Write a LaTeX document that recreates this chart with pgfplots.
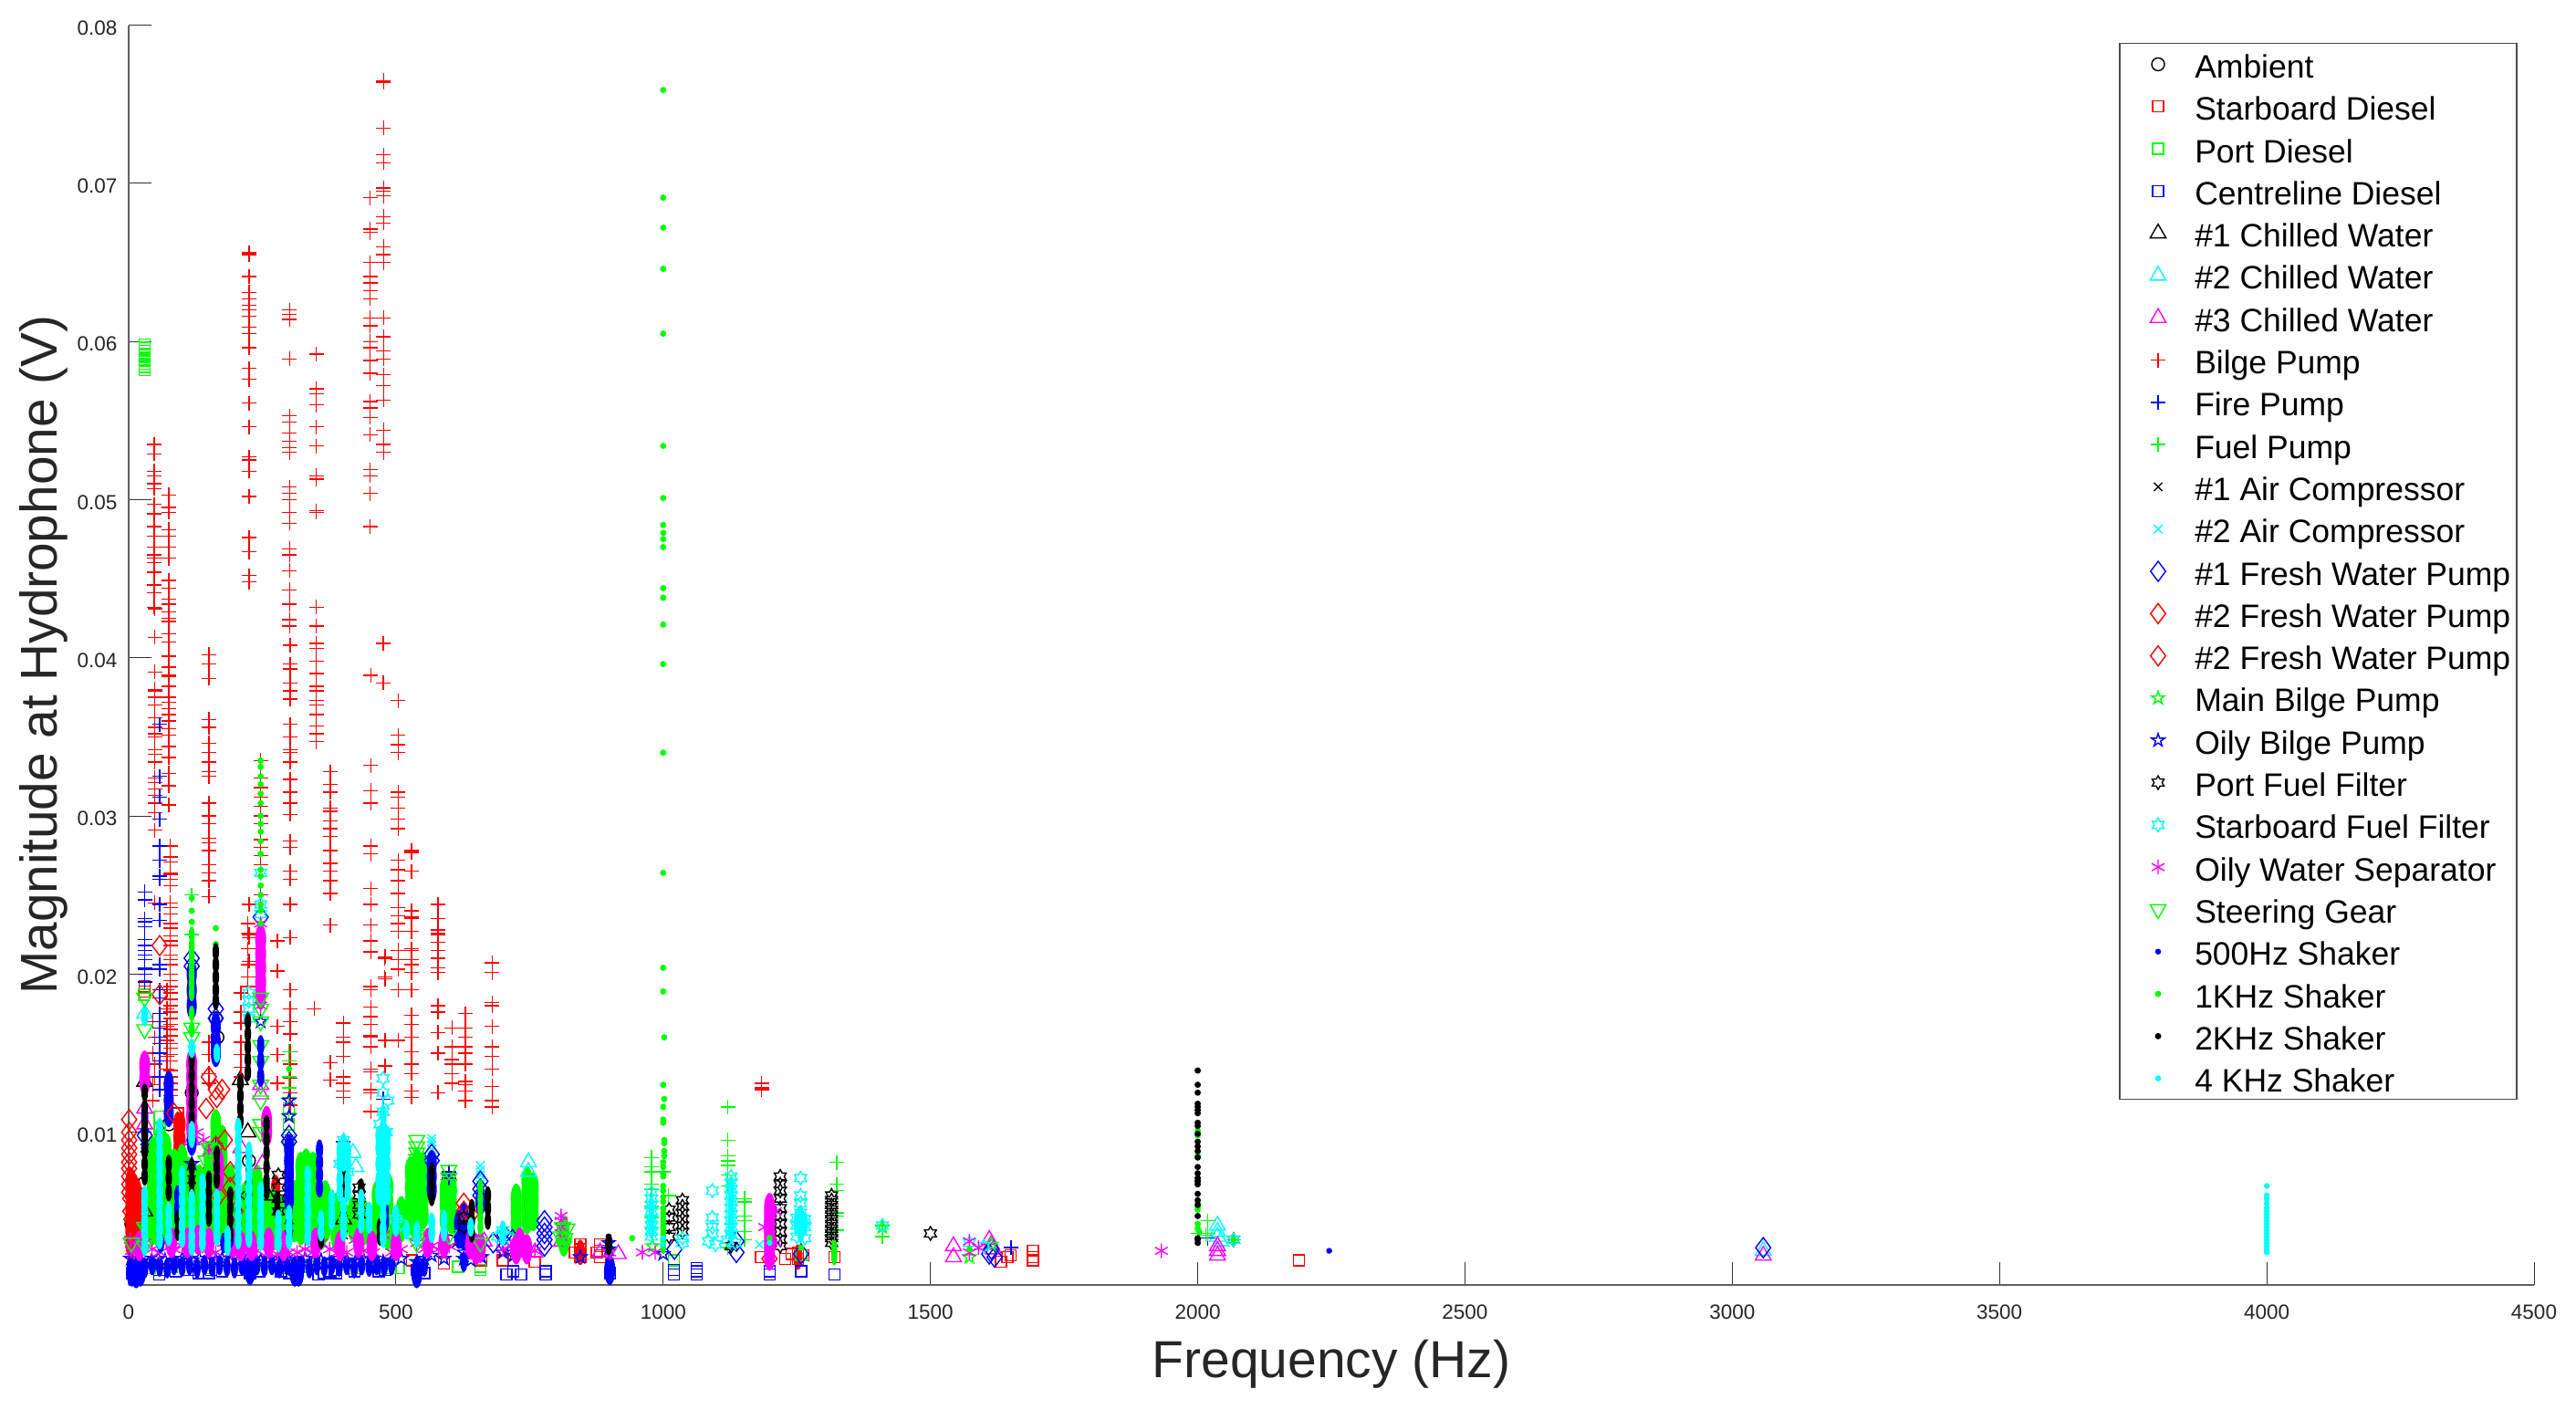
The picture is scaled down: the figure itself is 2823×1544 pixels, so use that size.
\documentclass[border=0pt]{standalone}
\usepackage{fontspec}
\setmainfont{Liberation Sans}
\usepackage{pgfplots}
\pgfplotsset{compat=1.18}
\usetikzlibrary{plotmarks}
\definecolor{tk}{HTML}{262626}
\definecolor{cyan}{RGB}{0,255,255}
\definecolor{magenta}{RGB}{255,0,255}
\definecolor{green}{RGB}{0,255,0}
\pgfdeclareplotmark{pill}{\pgfpathellipse{\pgfpointorigin}{\pgfpoint{\pgfplotmarksize}{0pt}}{\pgfpoint{0pt}{2.8\pgfplotmarksize}}\pgfusepathqfill}
\pgfdeclareplotmark{penta}{%
 \pgfpathmoveto{\pgfpointpolar{90}{\pgfplotmarksize}}%
 \pgfpathlineto{\pgfpointpolar{126}{0.382\pgfplotmarksize}}%
 \pgfpathlineto{\pgfpointpolar{162}{\pgfplotmarksize}}%
 \pgfpathlineto{\pgfpointpolar{198}{0.382\pgfplotmarksize}}%
 \pgfpathlineto{\pgfpointpolar{234}{\pgfplotmarksize}}%
 \pgfpathlineto{\pgfpointpolar{270}{0.382\pgfplotmarksize}}%
 \pgfpathlineto{\pgfpointpolar{306}{\pgfplotmarksize}}%
 \pgfpathlineto{\pgfpointpolar{342}{0.382\pgfplotmarksize}}%
 \pgfpathlineto{\pgfpointpolar{18}{\pgfplotmarksize}}%
 \pgfpathlineto{\pgfpointpolar{54}{0.382\pgfplotmarksize}}%
 \pgfpathclose\pgfusepathqstroke}
\pgfdeclareplotmark{hexa}{%
 \pgfpathmoveto{\pgfpointpolar{90}{\pgfplotmarksize}}%
 \pgfpathlineto{\pgfpointpolar{120}{0.577\pgfplotmarksize}}%
 \pgfpathlineto{\pgfpointpolar{150}{\pgfplotmarksize}}%
 \pgfpathlineto{\pgfpointpolar{180}{0.577\pgfplotmarksize}}%
 \pgfpathlineto{\pgfpointpolar{210}{\pgfplotmarksize}}%
 \pgfpathlineto{\pgfpointpolar{240}{0.577\pgfplotmarksize}}%
 \pgfpathlineto{\pgfpointpolar{270}{\pgfplotmarksize}}%
 \pgfpathlineto{\pgfpointpolar{300}{0.577\pgfplotmarksize}}%
 \pgfpathlineto{\pgfpointpolar{330}{\pgfplotmarksize}}%
 \pgfpathlineto{\pgfpointpolar{0}{0.577\pgfplotmarksize}}%
 \pgfpathlineto{\pgfpointpolar{30}{\pgfplotmarksize}}%
 \pgfpathlineto{\pgfpointpolar{60}{0.577\pgfplotmarksize}}%
 \pgfpathclose\pgfusepathqstroke}
\pgfplotsset{
 p/.style n args={3}{only marks,mark=#1,color=#2,mark size=#3,mark options={solid,line width=1.4pt},
  legend image code/.code={\path (-26pt,0pt) (48pt,0pt);\draw[mark repeat=2,mark phase=2,##1] plot coordinates {(0cm,0cm)(0.3cm,0cm)(0.6cm,0cm)};}},
 b/.style n args={2}{forget plot,only marks,mark=pill,color=#1,mark size=#2,mark options={solid,line width=0pt}},
}
\begin{document}
\begin{tikzpicture}
\path[use as bounding box] (0pt,0pt) rectangle (2823pt,1544pt);
\begin{axis}[
 at={(141pt,136pt)},anchor=south west,scale only axis,width=2636pt,height=1380.3pt,
 xmin=0,xmax=4500,ymin=0.00034,ymax=0.08,clip=false,
 axis x line=bottom,axis y line=left,axis line style={-,color=black!62,line width=2pt},
 tick align=inside,major tick length=25pt,tick style={color=black!80,line width=1pt},
 xtick={0,500,1000,1500,2000,2500,3000,3500,4000,4500},
 xticklabels={0,500,1000,1500,2000,2500,3000,3500,4000,4500},
 ytick={0.01,0.02,0.03,0.04,0.05,0.06,0.07,0.08},
 yticklabels={0.01,0.02,0.03,0.04,0.05,0.06,0.07,0.08},
 tick label style={font=\fontsize{22.5}{22.5}\selectfont,text=tk},
 xticklabel style={yshift=-18pt},yticklabel style={xshift=-9pt,yshift=-3pt},
 xlabel={Frequency (Hz)},ylabel={Magnitude at Hydrophone (V)},
 every axis x label/.style={at={(axis description cs:0.5,-0.0632)},anchor=center,font=\fontsize{57}{57}\selectfont,text=tk},
 every axis y label/.style={at={(axis description cs:-0.0355,0.5)},rotate=90,anchor=center,font=\fontsize{56.7}{56.7}\selectfont,text=tk},
 legend cell align=left,
 legend style={at={(0.8274,0.9862)},anchor=north west,draw=black!70,line width=1.5pt,
  font=\fontsize{35.5}{35.5}\selectfont,row sep=12.3pt,inner xsep=7pt,inner ysep=6pt,
  nodes={inner sep=0pt,text height=32pt,text depth=2pt}},
]
% 1 Ambient
\addplot[p={o}{black}{7}] coordinates {(5,.0042)(30,.0068)(75,.0105)(118,.0125)(163,.0172)(166,.0160)(225,.0082)(300,.0058)(402,.0050)(476,.0045)(600,.0031)};
\addlegendentry{Ambient}
% 2 Starboard Diesel
\addplot[b={red}{5}] coordinates {(92,.0105)(92,.0097)(92,.0089)(98,.0105)(98,.0095)(98,.0087)(845,.0024)(1252,.0021)(85,.0080)(85,.0070)(140,.0070)(140,.0060)(145,.0050)(250,.0040)(275,.0065)};
\addplot[p={square}{red}{6}] coordinates {(30,.0192)(30,.0189)(92,.0112)(845,.0029)(845,.0026)(845,.0023)(845,.0021)(835,.0024)(882,.0029)(882,.0025)(882,.0021)(876,.0024)(1183,.0021)(1228,.0020)(1240,.0023)(1252,.0024)(1252,.0020)(1262,.0022)(1320,.0021)(1632,.0018)(1644,.0021)(1650,.0022)(1692,.0025)(1692,.0021)(1692,.0019)(2189,.0019)(530,.0019)(590,.0017)(660,.0019)(700,.0019)(760,.0018)};
\addlegendentry{Starboard Diesel}
% 3 Port Diesel
\addplot[b={green}{6}] coordinates {(44,.0088)(44,.0078)(44,.0068)(44,.0058)(44,.0048)(44,.0038)(58,.0095)(58,.0085)(58,.0075)(58,.0065)(58,.0055)(58,.0045)(58,.0035)(70,.0090)(70,.0080)(70,.0070)(70,.0060)(70,.0050)(70,.0040)(85,.0080)(85,.0070)(85,.0060)(85,.0050)(85,.0040)(100,.0083)(100,.0075)(100,.0065)(100,.0055)(100,.0045)(110,.0075)(110,.0065)(110,.0055)(110,.0045)(125,.0070)(125,.0060)(125,.0050)(125,.0040)(132,.0070)(132,.0060)(132,.0050)(150,.0085)(150,.0075)(150,.0065)(150,.0055)(150,.0045)(150,.0035)(163,.0105)(163,.0097)(163,.0087)(163,.0077)(163,.0067)(163,.0057)(163,.0047)(175,.0095)(175,.0085)(175,.0075)(175,.0060)(175,.0050)(175,.0040)(190,.0070)(190,.0060)(190,.0050)(190,.0040)(205,.0055)(205,.0045)(205,.0035)(220,.0060)(220,.0050)(220,.0040)(240,.0070)(240,.0060)(240,.0050)(240,.0040)(255,.0062)(255,.0052)(255,.0042)(270,.0055)(270,.0045)(270,.0035)(285,.0050)(285,.0040)(298,.0050)(298,.0040)(310,.0060)(310,.0050)(310,.0040)(322,.0078)(322,.0068)(322,.0058)(322,.0048)(322,.0038)(332,.0080)(332,.0070)(332,.0060)(332,.0050)(332,.0040)(345,.0078)(345,.0068)(345,.0058)(345,.0048)(345,.0038)(360,.0055)(360,.0045)(360,.0035)(368,.0060)(368,.0050)(368,.0040)(388,.0052)(388,.0042)(388,.0035)(400,.0050)(400,.0040)(420,.0050)(420,.0040)(440,.0048)(440,.0038)(465,.0060)(465,.0050)(465,.0040)(485,.0065)(485,.0055)(485,.0045)(485,.0035)(510,.0050)(510,.0040)(527,.0075)(527,.0065)(527,.0055)(527,.0045)(539,.0080)(539,.0070)(539,.0060)(539,.0050)(539,.0040)(551,.0078)(551,.0068)(551,.0058)(551,.0048)(592,.0063)(592,.0055)(592,.0045)(604,.0063)(604,.0055)(604,.0045)(725,.0058)(725,.0050)(725,.0042)(745,.0069)(745,.0061)(745,.0053)(745,.0045)(757,.0065)(757,.0057)(757,.0047)(814,.0038)(814,.0031)};
\addplot[p={square}{green}{6}] coordinates {(30,.0598)(30,.0596)(30,.0594)(30,.0592)(30,.0590)(30,.0588)(30,.0586)(30,.0584)(30,.0582)(28,.0187)(58,.0110)(58,.0102)(300,.0115)(300,.0105)(300,.0095)(328,.0081)(347,.0079)(539,.0055)(1020,.0019)(40,.0014)(80,.0015)(150,.0014)(287,.0014)(335,.0015)(423,.0014)(468,.0015)(490,.0014)(505,.0014)(616,.0015)(658,.0013)(658,.0015)(1258,.0022)};
\addlegendentry{Port Diesel}
% 4 Centreline Diesel
\addplot[b={blue}{6}] coordinates {(6,.0012)(14,.0011)(22,.0012)(227,.0013)(311,.0012)(318,.0012)(539,.0011)(900,.0013)};
\addplot[p={square}{blue}{6}] coordinates {(6,.0011)(57,.0010)(57,.0013)(88,.0012)(114,.0013)(131,.0011)(150,.0011)(155,.0013)(175,.0012)(210,.0013)(227,.0011)(244,.0012)(285,.0012)(300,.0011)(311,.0013)(355,.0010)(365,.0011)(378,.0012)(388,.0013)(388,.0011)(423,.0012)(468,.0012)(480,.0013)(539,.0013)(553,.0011)(707,.0010)(720,.0012)(734,.0010)(780,.0012)(780,.0010)(900,.0011)(1020,.0013)(1020,.0010)(1063,.0014)(1063,.0012)(1063,.0010)(1199,.0012)(1199,.0010)(1258,.0012)(1320,.0010)};
\addlegendentry{Centreline Diesel}
% 5 #1 Chilled Water
\addplot[p={triangle}{black}{10}] coordinates {(30,.0132)(209,.0133)(223,.0100)(30,.0050)(260,.0060)(402,.0045)};
\addlegendentry{\#1 Chilled Water}
% 6 #2 Chilled Water
\addplot[p={triangle}{cyan}{10}] coordinates {(420,.0087)(425,.0078)(748,.0081)(748,.0075)(2037,.0041)(2037,.0037)(2037,.0034)(2043,.0031)(3058,.0025)(476,.0066)(30,.0175)};
\addlegendentry{\#2 Chilled Water}
% 7 #3 Chilled Water
\addplot[p={triangle}{magenta}{10}] coordinates {(882,.0024)(916,.0023)(1543,.0028)(1543,.0021)(1610,.0032)(1614,.0029)(1618,.0026)(2037,.0028)(2037,.0025)(2037,.0022)(3058,.0022)(810,.0031)(760,.0024)(30,.0115)(30,.0105)(247,.0130)(247,.0124)(118,.0095)(210,.0090)(250,.0080)(650,.0030)(665,.0031)(728,.0030)};
\addlegendentry{\#3 Chilled Water}
% 8 Bilge Pump
\addplot[p={+}{red}{8}] coordinates {
(48,.0535)(48,.0529)(48,.0518)(48,.0515)(48,.0510)(48,.0507)(48,.0497)(48,.0491)(48,.0483)(48,.0477)(48,.0470)(48,.0465)(48,.0463)(48,.0460)(48,.0454)(48,.0446)(48,.0441)(48,.0432)(49,.0431)(49,.0413)(49,.0391)(49,.0380)(49,.0379)(49,.0375)(49,.0370)(49,.0362)(49,.0356)(49,.0352)(49,.0350)(49,.0342)(49,.0339)(49,.0334)(49,.0324)(49,.0321)(49,.0317)(49,.0313)(49,.0308)(49,.0302)(49,.0291)(49,.0160)(49,.0143)(49,.0135)(45,.0170)(45,.0150)(45,.0130)(45,.0120)
(75,.0503)(75,.0495)(75,.0492)(75,.0481)(75,.0477)(75,.0470)(75,.0463)(75,.0449)(75,.0444)(75,.0437)(75,.0434)(75,.0429)(75,.0423)(75,.0415)(75,.0425)(75,.0410)(75,.0401)(75,.0394)(75,.0389)(75,.0388)(75,.0382)(75,.0375)(75,.0372)(75,.0368)(75,.0364)(75,.0360)(75,.0355)(75,.0351)(75,.0344)(75,.0337)(75,.0327)(75,.0319)(75,.0307)(78,.0281)(78,.0274)(78,.0271)(78,.0264)(78,.0263)(78,.0260)(78,.0256)(78,.0245)(78,.0242)(78,.0238)(78,.0232)(78,.0229)(78,.0224)(78,.0221)(78,.0218)(78,.0212)(78,.0209)(78,.0206)(78,.0200)(78,.0196)(78,.0192)(78,.0188)(78,.0184)(78,.0180)(78,.0176)(78,.0172)(78,.0168)(78,.0165)(78,.0161)(78,.0156)(78,.0153)(78,.0149)(78,.0145)(78,.0139)(78,.0135)(78,.0131)(78,.0127)(78,.0123)(72,.0190)(72,.0178)(72,.0167)(72,.0158)(72,.0148)(72,.0140)
(150,.0402)(150,.0396)(150,.0387)(150,.0361)(150,.0356)(150,.0346)(150,.0340)(150,.0334)(150,.0328)(150,.0325)(150,.0308)(150,.0300)(150,.0295)(150,.0286)(150,.0283)(150,.0278)(150,.0269)(150,.0264)(150,.0259)(150,.0249)(150,.0157)(150,.0149)(150,.0137)(150,.0131)
(225,.0656)(225,.0655)(225,.0641)(225,.0631)(225,.0627)(225,.0623)(225,.0620)(225,.0616)(225,.0609)(225,.0605)(225,.0596)(225,.0583)(225,.0576)(225,.0561)(225,.0546)(225,.0527)(225,.0525)(225,.0518)(225,.0502)(225,.0476)(225,.0467)(225,.0452)(225,.0448)(223,.0232)(223,.0226)(223,.0216)(223,.0206)(223,.0198)(223,.0192)(210,.0188)(210,.0176)(210,.0169)(210,.0157)(210,.0149)(210,.0141)(210,.0135)
(247,.0335)(247,.0324)(247,.0318)(247,.0312)(247,.0306)(247,.0300)(247,.0295)(247,.0285)(247,.0280)(247,.0275)(247,.0269)(247,.0250)(225,.0244)(225,.0225)(225,.0223)(225,.0208)
(301,.0620)(301,.0617)(301,.0614)(301,.0589)(301,.0553)(301,.0549)(301,.0542)(301,.0537)(301,.0533)(301,.0530)(301,.0508)(301,.0504)(301,.0500)(301,.0492)(301,.0485)(301,.0469)(301,.0465)(301,.0455)(301,.0443)(301,.0434)(301,.0424)(301,.0420)(302,.0408)(302,.0396)(302,.0393)(302,.0384)(302,.0379)(302,.0374)(302,.0358)(302,.0350)(302,.0342)(302,.0340)(302,.0334)(302,.0323)(302,.0315)(302,.0308)(302,.0301)(302,.0284)(302,.0280)(302,.0265)(302,.0260)(302,.0244)(302,.0223)(302,.0190)(302,.0178)(302,.0170)(302,.0162)(302,.0151)(302,.0143)(302,.0134)(302,.0125)(302,.0117)(278,.0221)(278,.0202)(278,.0167)(278,.0149)(278,.0131)
(351,.0592)(351,.0570)(351,.0567)(351,.0560)(351,.0546)(351,.0534)(351,.0515)(351,.0513)(351,.0493)(351,.0492)(351,.0432)(351,.0420)(351,.0409)(351,.0406)(351,.0398)(351,.0390)(351,.0382)(351,.0379)(351,.0373)(351,.0370)(351,.0364)(351,.0357)(351,.0352)(351,.0347)(347,.0178)
(377,.0328)(377,.0320)(377,.0315)(377,.0305)(377,.0303)(377,.0297)(377,.0292)(377,.0287)(377,.0278)(377,.0270)(377,.0265)(377,.0259)(377,.0251)(377,.0231)(377,.0144)(377,.0133)(402,.0169)(402,.0160)(402,.0157)(402,.0148)(402,.0135)(402,.0131)(402,.0126)(402,.0122)
(452,.0691)(452,.0671)(452,.0669)(452,.0650)(452,.0641)(452,.0637)(452,.0632)(452,.0627)(452,.0615)(452,.0610)(452,.0600)(452,.0596)(452,.0588)(452,.0580)(452,.0562)(452,.0558)(452,.0552)(452,.0541)(452,.0519)(452,.0515)(452,.0504)(452,.0483)(453,.0389)(453,.0332)(453,.0316)(453,.0308)(453,.0281)(453,.0276)(453,.0254)(453,.0244)(453,.0231)(453,.0221)(453,.0214)(453,.0192)(453,.0190)(453,.0179)(453,.0173)(453,.0168)(453,.0161)(453,.0160)(453,.0154)(453,.0140)(453,.0138)(453,.0127)(453,.0125)(453,.0113)
(477,.0765)(477,.0764)(477,.0735)(477,.0713)(477,.0718)(477,.0697)(477,.0695)(477,.0692)(477,.0679)(477,.0675)(477,.0660)(477,.0655)(477,.0650)(477,.0615)(477,.0603)(477,.0594)(477,.0589)(477,.0579)(477,.0572)(477,.0563)(477,.0544)(477,.0535)(477,.0530)(476,.0409)(476,.0384)(479,.0210)(479,.0198)(480,.0211)(480,.0197)(480,.0158)(480,.0142)
(504,.0373)(504,.0351)(504,.0345)(504,.0340)(504,.0315)(504,.0312)(504,.0305)(504,.0298)(504,.0292)(504,.0272)(504,.0266)(504,.0259)(504,.0251)(504,.0242)(504,.0237)(504,.0232)(504,.0227)(504,.0215)(504,.0209)(504,.0203)(504,.0190)(504,.0158)
(529,.0278)(529,.0277)(529,.0265)(529,.0240)(529,.0236)(529,.0235)(529,.0227)(529,.0216)(529,.0209)(529,.0206)(529,.0201)(529,.0215)(529,.0206)(529,.0190)(529,.0174)(529,.0168)(529,.0160)(529,.0151)(529,.0143)(529,.0137)(529,.0126)(529,.0122)
(579,.0244)(579,.0235)(579,.0228)(579,.0226)(579,.0225)(579,.0220)(579,.0215)(579,.0210)(579,.0204)(579,.0201)(579,.0180)(579,.0176)(579,.0163)(579,.0150)(579,.0125)
(605,.0166)(605,.0154)(605,.0146)(605,.0143)(605,.0137)(605,.0131)(630,.0175)(630,.0166)(630,.0160)(630,.0154)(630,.0150)(630,.0143)(630,.0132)(630,.0130)(630,.0126)(630,.0120)
(680,.0207)(680,.0201)(680,.0182)(680,.0180)(680,.0167)(680,.0154)(680,.0148)(680,.0140)(680,.0129)(680,.0120)(680,.0116)
(1184,.0131)(1184,.0128)(1184,.0127)(49,.0245)
};
\addlegendentry{Bilge Pump}
% 9 Fire Pump
\addplot[p={+}{blue}{8}] coordinates {(30,.0252)(30,.0247)(30,.0235)(30,.0233)(30,.0230)(30,.0222)(30,.0218)(30,.0215)(30,.0212)(30,.0209)(30,.0204)(30,.0203)(30,.0200)(30,.0195)(58,.0358)(58,.0325)(58,.0312)(58,.0298)(58,.0281)(58,.0272)(58,.0262)(58,.0260)(58,.0244)(58,.0234)(58,.0206)(58,.0203)(58,.0190)(58,.0185)(58,.0175)(58,.0170)(58,.0166)(58,.0160)(58,.0156)(58,.0150)(58,.0145)(58,.0135)(58,.0127)(402,.0094)(476,.0121)(599,.0075)(599,.0073)(599,.0071)(163,.0093)(163,.0085)(1651,.0027)(2019,.0033)};
\addlegendentry{Fire Pump}
% 10 Fuel Pump
\addplot[p={+}{green}{8}] coordinates {(978,.0084)(978,.0078)(978,.0075)(978,.0067)(978,.0064)(978,.0053)(978,.0046)(978,.0040)(1121,.0116)(1121,.0095)(1121,.0085)(1121,.0082)(1121,.0079)(1121,.0073)(1121,.0066)(1121,.0027)(1152,.0058)(1152,.0056)(1152,.0047)(1152,.0044)(1152,.0037)(1152,.0032)(1325,.0081)(1325,.0067)(1325,.0063)(1325,.0049)(1325,.0047)(1325,.0038)(1315,.0035)(1410,.0041)(1410,.0034)(2019,.0044)(2019,.0036)(2015,.0035)(2067,.0032)(300,.0151)(300,.0145)(300,.0135)(300,.0128)(300,.0122)(300,.0112)(118,.0250)(118,.0225)(2000,.0036)(1000,.0075)(1010,.0060)};
\addlegendentry{Fuel Pump}
% 11 #1 Air Compressor
\addplot[p={x}{black}{6.5}] coordinates {(30,.0090)(118,.0070)(209,.0060)(300,.0040)(402,.0035)};
\addlegendentry{\#1 Air Compressor}
% 12 #2 Air Compressor
\addplot[p={x}{cyan}{6.5}] coordinates {(118,.0152)(118,.0147)(118,.0141)(118,.0136)(567,.0096)(567,.0094)(567,.0092)(567,.0089)(658,.0079)(658,.0076)(658,.0073)(658,.0070)(658,.0067)(1180,.0029)};
\addlegendentry{\#2 Air Compressor}
% 13 #1 Fresh Water Pump
\addplot[b={blue}{5.5}] coordinates {(118,.0200)(118,.0190)(118,.0180)(163,.0167)(163,.0157)(163,.0150)(75,.0130)(75,.0120)(75,.0112)(300,.0090)(300,.0082)(300,.0074)(300,.0066)(300,.0058)(627,.0047)(627,.0040)(627,.0034)(618,.0042)(618,.0035)(636,.0040)(636,.0032)(567,.0080)(567,.0072)(567,.0064)(658,.0056)(118,.0100)(118,.0094)};
\addplot[p={diamond}{blue}{11}] coordinates {(118,.0210)(118,.0205)(163,.0178)(163,.0172)(247,.0236)(300,.0098)(300,.0094)(567,.0086)(567,.0082)(658,.0069)(658,.0064)(658,.0060)(778,.0044)(778,.0040)(778,.0036)(778,.0032)(778,.0028)(1137,.0031)(1137,.0024)(1021,.0026)(1258,.0023)(1614,.0026)(1610,.0023)(1620,.0021)(3058,.0027)(703,.0035)(703,.0030)(718,.0032)(682,.0030)(30,.0098)};
\addlegendentry{\#1 Fresh Water Pump}
% 14 #2 Fresh Water Pump
\addplot[b={red}{6}] coordinates {(4,.0068)(4,.0060)(4,.0052)(4,.0045)(4,.0038)(4,.0030)(14,.0062)(14,.0054)(14,.0047)(14,.0040)(14,.0032)};
\addplot[p={diamond}{red}{11}] coordinates {(1,.0108)(1,.0100)(1,.0095)(1,.0090)(1,.0086)(1,.0081)(1,.0077)(1,.0072)(1,.0067)(1,.0062)(58,.0218)(58,.0187)(163,.0127)(163,.0091)(175,.0127)(180,.0095)(190,.0075)(190,.0065)(627,.0055)(627,.0050)(640,.0048)(5,.0045)(10,.0040)};
\addlegendentry{\#2 Fresh Water Pump}
% 15 #2 Fresh Water Pump
\addplot[p={diamond}{red}{11}] coordinates {(150,.0135)(165,.0122)(145,.0115)(85,.0112)(3,.0058)(3,.0050)(168,.0060)(200,.0050)(1199,.0020)};
\addlegendentry{\#2 Fresh Water Pump}
% 16 Main Bilge Pump
\addplot[p={penta}{green}{7.5}] coordinates {(30,.0040)(280,.0050)(402,.0045)(980,.0028)(1410,.0040)(1573,.0021)(1614,.0029)(900,.0026)};
\addlegendentry{Main Bilge Pump}
% 17 Oily Bilge Pump
\addplot[b={blue}{4}] coordinates {(6,.0015)(18,.0016)(30,.0014)(44,.0016)(58,.0015)(72,.0014)(85,.0016)(100,.0015)(114,.0016)(128,.0014)(142,.0016)(156,.0015)(170,.0016)(184,.0015)(198,.0014)(212,.0016)(226,.0015)(240,.0016)(254,.0015)(268,.0016)(282,.0014)(296,.0016)(310,.0015)(324,.0016)(338,.0014)(352,.0016)(366,.0015)(380,.0016)(394,.0015)(408,.0016)(422,.0014)(436,.0016)(450,.0015)(464,.0016)(478,.0015)(492,.0016)(627,.0018)(539,.0015)(553,.0015)};
\addplot[p={penta}{blue}{7.5}] coordinates {(4,.0020)(16,.0019)(28,.0020)(42,.0018)(55,.0020)(68,.0019)(85,.0018)(100,.0020)(118,.0019)(132,.0020)(148,.0018)(163,.0019)(175,.0020)(190,.0018)(205,.0019)(222,.0020)(235,.0018)(247,.0019)(262,.0020)(278,.0018)(292,.0020)(300,.0019)(315,.0018)(330,.0020)(345,.0018)(360,.0019)(376,.0018)(392,.0020)(408,.0019)(424,.0018)(440,.0019)(458,.0020)(476,.0018)(492,.0019)(510,.0020)(539,.0018)(553,.0020)(567,.0022)(590,.0020)(627,.0024)(627,.0020)(640,.0019)(660,.0021)(700,.0024)(720,.0022)(845,.0021)(898,.0030)(898,.0026)(1000,.0023)(247,.0170)(118,.0080)(300,.0120)(300,.0110)};
\addlegendentry{Oily Bilge Pump}
% 18 Port Fuel Filter
\addplot[p={hexa}{black}{7.5}] coordinates {(280,.0073)(280,.0065)(280,.0058)(280,.0050)(431,.0065)(431,.0060)(431,.0054)(431,.0048)(627,.0046)(627,.0040)(1011,.0051)(1011,.0046)(1011,.0040)(1011,.0034)(1036,.0057)(1036,.0053)(1036,.0049)(1036,.0045)(1036,.0041)(1036,.0037)(1219,.0072)(1219,.0067)(1219,.0063)(1219,.0058)(1219,.0052)(1219,.0047)(1219,.0042)(1219,.0037)(1219,.0032)(1219,.0028)(1315,.0060)(1315,.0057)(1315,.0054)(1315,.0051)(1315,.0048)(1315,.0045)(1315,.0042)(1315,.0039)(1315,.0036)(1315,.0033)(1315,.0030)(1127,.0028)(1500,.0036)(2067,.0032)};
\addlegendentry{Port Fuel Filter}
% 19 Starboard Fuel Filter
\addplot[p={hexa}{cyan}{7.5}] coordinates {(247,.0264)(247,.0244)(247,.0238)(225,.0188)(225,.0183)(225,.0178)(225,.0172)(476,.0134)(476,.0125)(485,.0120)(476,.0113)(470,.0105)(482,.0100)(402,.0095)(402,.0088)(395,.0080)(410,.0075)(978,.0062)(978,.0058)(978,.0054)(978,.0050)(978,.0045)(978,.0041)(978,.0037)(978,.0034)(1036,.0033)(1036,.0030)(1092,.0063)(1092,.0046)(1092,.0040)(1092,.0036)(1085,.0031)(1098,.0029)(1127,.0072)(1127,.0068)(1127,.0064)(1127,.0060)(1127,.0056)(1127,.0052)(1127,.0048)(1127,.0044)(1127,.0040)(1127,.0035)(1120,.0032)(1135,.0030)(1257,.0071)(1257,.0060)(1257,.0055)(1257,.0049)(1250,.0046)(1265,.0045)(1250,.0041)(1265,.0040)(1257,.0037)(1250,.0034)(1265,.0033)(1410,.0041)(1573,.0030)(1600,.0028)(500,.0045)(510,.0042)(700,.0038)(690,.0034)(712,.0033)(2067,.0032)};
\addlegendentry{Starboard Fuel Filter}
% 20 Oily Water Separator
\addplot[b={magenta}{6}] coordinates {(247,.0222)(247,.0213)(247,.0204)(247,.0195)(247,.0187)(30,.0142)(30,.0133)(118,.0143)(118,.0135)(118,.0127)(118,.0119)(118,.0111)(118,.0103)(258,.0107)(258,.0100)(1199,.0052)(1199,.0047)(1199,.0042)(1199,.0037)(1199,.0032)(1199,.0027)(1199,.0022)(732,.0030)(725,.0026)(745,.0026)(168,.0080)(168,.0072)(658,.0027)(650,.0026)(110,.0030)(150,.0030)(210,.0028)(20,.0028)(80,.0030)(130,.0032)(195,.0030)(230,.0028)(262,.0030)(290,.0028)(350,.0030)(395,.0028)(430,.0030)(455,.0028)(500,.0028)(560,.0030)(590,.0030)(640,.0029)};
\addplot[p={asterisk}{magenta}{8}] coordinates {(1210,.0050)(1190,.0040)(1210,.0030)(247,.0232)(247,.0180)(128,.0100)(140,.0095)(150,.0088)(5,.0025)(18,.0028)(30,.0030)(44,.0026)(58,.0024)(70,.0030)(85,.0026)(100,.0028)(118,.0026)(132,.0033)(148,.0026)(163,.0024)(178,.0030)(192,.0024)(208,.0027)(222,.0025)(240,.0025)(262,.0024)(278,.0023)(300,.0024)(315,.0024)(330,.0026)(345,.0024)(360,.0030)(376,.0026)(392,.0024)(408,.0024)(424,.0032)(440,.0025)(458,.0024)(476,.0035)(492,.0024)(510,.0026)(539,.0030)(553,.0026)(567,.0028)(580,.0026)(600,.0028)(640,.0026)(700,.0026)(715,.0028)(740,.0027)(760,.0025)(809,.0047)(809,.0044)(809,.0040)(809,.0036)(900,.0024)(961,.0024)(985,.0024)(1573,.0031)(1573,.0024)(1590,.0027)(1932,.0025)(3,.0032)(10,.0024)};
\addlegendentry{Oily Water Separator}
% 21 Steering Gear
\addplot[p={triangle}{green}{10}, mark options={solid,line width=1.4pt,rotate=180}] coordinates {(30,.0185)(30,.0165)(118,.0166)(118,.0160)(247,.0185)(247,.0178)(247,.0170)(247,.0155)(247,.0145)(247,.0130)(247,.0120)(247,.0105)(247,.0100)(150,.0090)(145,.0082)(150,.0072)(155,.0065)(30,.0040)(539,.0095)(539,.0091)(539,.0087)(539,.0083)(539,.0079)(539,.0075)(539,.0065)(539,.0035)(539,.0030)(599,.0076)(599,.0071)(599,.0067)(599,.0035)(658,.0030)(812,.0040)(820,.0039)(808,.0034)(816,.0033)(814,.0030)(814,.0028)(30,.0028)(5,.0030)};
\addlegendentry{Steering Gear}
% 22 500Hz Shaker
\addplot[b={blue}{4}] coordinates {(30,.0110)(30,.0100)(30,.0090)(247,.0155)(247,.0145)(247,.0135)(357,.0089)(357,.0081)(357,.0073)(357,.0065)(92,.0060)(92,.0052)(92,.0046)(300,.0058)(300,.0050)(300,.0042)(300,.0036)(480,.0050)(480,.0043)(60,.0030)(190,.0033)(178,.0030)};
\addplot[p={*}{blue}{2.5}] coordinates {(2246,.0025)(398,.0090)(402,.0075)(1000,.0028)(900,.0032)};
\addlegendentry{500Hz Shaker}
% 23 1KHz Shaker
\addplot[b={green}{3.2}] coordinates {(118,.0225)(118,.0218)(118,.0212)(118,.0206)(118,.0200)(118,.0194)(118,.0188)(118,.0175)(118,.0165)(658,.0065)(658,.0058)(658,.0052)(658,.0046)(658,.0040)(1000,.0045)(1000,.0040)(1000,.0036)(1000,.0032)(1000,.0028)(1320,.0027)(1320,.0025)(1320,.0023)(1320,.0021)};
\addplot[p={*}{green}{2.7}] coordinates {(118,.0248)(118,.0240)(118,.0233)(163,.0229)(163,.0219)(247,.0335)(247,.0331)(247,.0325)(247,.0320)(247,.0314)(247,.0308)(247,.0300)(247,.0295)(247,.0290)(247,.0284)(247,.0276)(247,.0266)(247,.0262)(247,.0256)(247,.0250)(247,.0244)(247,.0240)(247,.0232)(300,.0140)(942,.0033)(898,.0026)(1000,.0759)(1000,.0691)(1000,.0672)(1000,.0646)(1000,.0605)(1000,.0534)(1000,.0501)(1000,.0484)(1000,.0479)(1000,.0475)(1000,.0470)(1000,.0444)(1000,.0438)(1000,.0421)(1000,.0396)(1000,.0340)(1000,.0264)(1000,.0204)(1000,.0189)(1002,.0160)(1000,.0130)(1002,.0121)(1000,.0116)(1000,.0108)(1000,.0106)(1002,.0095)(1002,.0093)(1002,.0088)(1002,.0085)(1000,.0081)(1000,.0078)(1000,.0074)(1000,.0072)(1000,.0066)(1000,.0063)(1000,.0059)(1000,.0056)(1000,.0052)(1000,.0049)(2000,.0101)(2000,.0098)(2000,.0088)(2000,.0085)(2000,.0070)(2000,.0068)(2000,.0055)(2000,.0053)(2000,.0051)(2000,.0042)(2000,.0039)(2003,.0037)(1199,.0033)(1258,.0027)(1573,.0026)(2067,.0032)};
\addlegendentry{1KHz Shaker}
% 24 2KHz Shaker
\addplot[b={black}{3.6}] coordinates {(30,.0125)(30,.0115)(30,.0105)(30,.0097)(30,.0088)(30,.0080)(30,.0072)(118,.0145)(118,.0136)(118,.0127)(118,.0118)(118,.0109)(118,.0078)(118,.0069)(118,.0060)(75,.0080)(75,.0071)(75,.0062)(92,.0045)(92,.0037)(150,.0070)(150,.0062)(150,.0054)(150,.0046)(165,.0086)(165,.0078)(165,.0070)(163,.0214)(163,.0206)(163,.0198)(163,.0190)(163,.0183)(190,.0060)(190,.0052)(190,.0044)(190,.0036)(209,.0131)(209,.0123)(209,.0115)(209,.0107)(223,.0170)(223,.0162)(223,.0154)(223,.0146)(223,.0138)(225,.0085)(225,.0077)(225,.0069)(225,.0061)(225,.0055)(258,.0105)(258,.0096)(258,.0087)(258,.0078)(258,.0069)(258,.0063)(278,.0057)(278,.0050)(360,.0045)(360,.0038)(360,.0032)(402,.0080)(402,.0072)(402,.0064)(402,.0056)(402,.0049)(435,.0065)(435,.0057)(435,.0049)(470,.0040)(470,.0034)(567,.0075)(567,.0067)(567,.0059)(672,.0060)(672,.0052)(672,.0044)(642,.0052)(642,.0044)(642,.0036)(898,.0030)(898,.0028)(205,.0060)(205,.0050)(205,.0040)};
\addplot[p={*}{black}{2.7}] coordinates {(898,.0034)(2000,.0139)(2000,.0130)(2000,.0125)(2000,.0118)(2000,.0116)(2000,.0114)(2000,.0112)(2000,.0106)(2000,.0104)(2000,.0099)(2000,.0094)(2000,.0091)(2000,.0088)(2000,.0084)(2000,.0078)(2000,.0074)(2000,.0071)(2000,.0069)(2000,.0067)(2000,.0061)(2000,.0057)(2000,.0054)(2000,.0047)(2000,.0033)(2000,.0030)(2000,.0032)};
\addlegendentry{2KHz Shaker}
% 25 4 KHz Shaker
\addplot[b={cyan}{3.8}] coordinates {(30,.0173)(30,.0060)(30,.0052)(30,.0044)(30,.0036)(30,.0028)(58,.0103)(58,.0095)(58,.0087)(58,.0079)(58,.0071)(58,.0063)(58,.0055)(58,.0047)(58,.0039)(58,.0032)(75,.0050)(75,.0042)(75,.0034)(100,.0073)(100,.0065)(100,.0057)(100,.0049)(100,.0041)(100,.0033)(118,.0153)(118,.0101)(118,.0096)(118,.0058)(118,.0050)(118,.0042)(118,.0034)(118,.0028)(138,.0068)(138,.0060)(138,.0052)(138,.0044)(138,.0036)(138,.0030)(165,.0150)(165,.0058)(165,.0050)(165,.0042)(165,.0034)(185,.0035)(185,.0028)(205,.0103)(205,.0095)(205,.0087)(205,.0079)(205,.0071)(205,.0063)(205,.0055)(205,.0047)(205,.0039)(205,.0032)(225,.0088)(225,.0080)(225,.0072)(225,.0064)(225,.0056)(225,.0048)(225,.0040)(225,.0033)(247,.0063)(247,.0055)(247,.0047)(247,.0039)(247,.0031)(280,.0045)(280,.0037)(280,.0030)(300,.0048)(300,.0040)(300,.0032)(335,.0073)(335,.0065)(335,.0057)(335,.0049)(335,.0041)(335,.0034)(360,.0045)(360,.0037)(380,.0058)(380,.0050)(380,.0044)(402,.0093)(402,.0085)(402,.0081)(402,.0053)(402,.0045)(402,.0037)(395,.0088)(410,.0088)(395,.0080)(410,.0080)(395,.0070)(410,.0070)(395,.0062)(410,.0062)(435,.0058)(435,.0050)(435,.0042)(450,.0050)(450,.0042)(476,.0111)(476,.0103)(476,.0095)(476,.0087)(476,.0079)(476,.0071)(476,.0063)(476,.0055)(476,.0047)(476,.0039)(476,.0033)(468,.0098)(484,.0098)(468,.0090)(484,.0090)(468,.0080)(484,.0080)(468,.0070)(484,.0070)(468,.0060)(484,.0060)(500,.0048)(500,.0040)(520,.0038)(539,.0038)(539,.0033)(567,.0043)(567,.0036)(590,.0045)(590,.0037)(640,.0040)(700,.0038)(700,.0034)(978,.0053)(978,.0045)(978,.0039)(1127,.0066)(1127,.0058)(1127,.0050)(1127,.0042)(1127,.0037)(1257,.0048)(1257,.0042)(1257,.0036)(1250,.0042)(1265,.0042)};
\addplot[p={*}{cyan}{2.5}] coordinates {(4000,.0066)(4000,.0060)(4000,.0058)(4000,.0055)(4000,.0052)(4000,.0050)(4000,.0048)(4000,.0046)(4000,.0044)(4000,.0042)(4000,.0040)(4000,.0038)(4000,.0036)(4000,.0034)(4000,.0032)(4000,.0030)(4000,.0028)(4000,.0026)(4000,.0024)(1000,.0029)(1199,.0030)(1127,.0033)(1000,.0033)};
\addlegendentry{4 KHz Shaker}
\end{axis}
\end{tikzpicture}
\end{document}
